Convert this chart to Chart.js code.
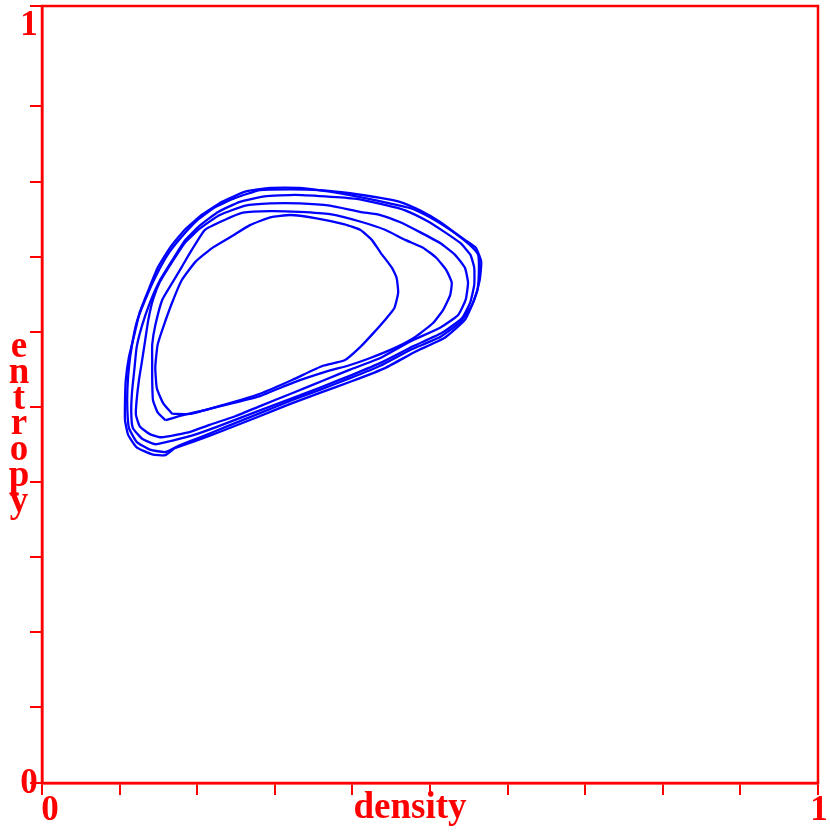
<!DOCTYPE html>
<html>
<head>
<meta charset="utf-8">
<title>density / entropy</title>
<script src="https://cdn.jsdelivr.net/npm/chart.js@4.4.1/dist/chart.umd.min.js"></script>
<style>
    html, body { margin: 0; padding: 0; background: #ffffff; }
    #wrap { width: 830px; height: 833px; }
</style>
</head>
<body>
<div id="wrap"><canvas id="phaseChart" width="830" height="833"></canvas></div>
<script>
'use strict';

// 1. DATA (density, entropy) - one closed loop per orbit, inner to outer
const loopA = [
    [.168,.475],[.191,.475],[.210,.480],[.242,.489],[.281,.501],[.323,.519],[.362,.537],[.390,.544],
    [.410,.561],[.427,.579],[.442,.596],[.454,.611],[.459,.631],[.457,.650],[.451,.663],[.436,.683],
    [.425,.699],[.410,.712],[.390,.719],[.352,.727],[.320,.731],[.294,.728],[.268,.718],[.245,.704],
    [.220,.689],[.198,.671],[.180,.647],[.168,.619],[.157,.589],[.149,.564],[.146,.535],[.148,.508],
    [.156,.489]
];
const loopB = [
    [.159,.467],[.184,.474],[.210,.480],[.242,.488],[.281,.498],[.323,.515],[.365,.529],[.397,.538],
    [.423,.547],[.457,.561],[.481,.574],[.504,.592],[.517,.609],[.526,.628],[.528,.644],[.521,.660],
    [.508,.676],[.491,.689],[.468,.699],[.442,.712],[.412,.722],[.371,.732],[.332,.735],[.294,.736],
    [.259,.734],[.236,.725],[.210,.712],[.193,.686],[.180,.664],[.168,.644],[.155,.622],[.146,.589],
    [.142,.564],[.142,.544],[.142,.519],[.143,.493],[.149,.477]
];
const loopC = [
    [.168,.447],[.191,.452],[.216,.461],[.249,.472],[.281,.485],[.323,.502],[.365,.519],[.397,.532],
    [.436,.547],[.474,.568],[.513,.586],[.536,.602],[.546,.622],[.549,.644],[.545,.663],[.532,.680],
    [.513,.695],[.487,.709],[.461,.722],[.436,.731],[.410,.735],[.371,.743],[.332,.746],[.294,.746],
    [.262,.743],[.229,.731],[.204,.714],[.184,.695],[.168,.671],[.152,.645],[.143,.622],[.137,.596],
    [.133,.570],[.129,.544],[.125,.519],[.122,.493],[.121,.474],[.126,.459],[.139,.449],[.152,.445]
];
const loopD = [
    [.165,.440],[.193,.447],[.227,.459],[.274,.477],[.322,.495],[.361,.510],[.399,.525],[.439,.542],
    [.478,.562],[.515,.579],[.541,.598],[.552,.619],[.557,.641],[.557,.663],[.552,.680],[.539,.695],
    [.519,.709],[.497,.723],[.468,.737],[.442,.744],[.403,.752],[.365,.755],[.326,.757],[.287,.755],
    [.255,.748],[.227,.735],[.204,.718],[.184,.698],[.168,.673],[.152,.647],[.139,.618],[.129,.589],
    [.122,.561],[.119,.532],[.116,.503],[.115,.477],[.117,.457],[.129,.443],[.146,.436]
];
const loopE = [
    [.178,.435],[.204,.445],[.236,.458],[.281,.476],[.323,.493],[.358,.506],[.397,.521],[.436,.537],
    [.474,.557],[.513,.574],[.539,.593],[.554,.615],[.561,.634],[.563,.658],[.562,.680],[.552,.692],
    [.536,.705],[.513,.722],[.487,.737],[.461,.748],[.436,.753],[.397,.759],[.358,.763],[.320,.764],
    [.281,.763],[.249,.753],[.223,.741],[.201,.725],[.180,.703],[.162,.680],[.146,.651],[.133,.622],
    [.122,.593],[.116,.564],[.112,.535],[.110,.506],[.110,.480],[.112,.457],[.122,.439],[.139,.429],
    [.159,.426]
];
const loopF = [
    [.171,.431],[.197,.440],[.232,.453],[.278,.471],[.320,.488],[.358,.502],[.399,.517],[.442,.534],
    [.481,.555],[.519,.573],[.545,.596],[.557,.622],[.564,.647],[.566,.671],[.559,.689],[.545,.699],
    [.526,.712],[.500,.728],[.474,.740],[.448,.746],[.410,.754],[.371,.761],[.332,.766],[.294,.766],
    [.262,.761],[.232,.748],[.207,.732],[.184,.712],[.165,.689],[.149,.663],[.137,.634],[.126,.606],
    [.119,.577],[.112,.548],[.108,.519],[.107,.493],[.107,.467],[.111,.448],[.122,.432],[.142,.423],
    [.159,.422]
];
const loops = [loopA, loopB, loopC, loopD, loopE, loopF];

// tick positions along each axis (only the ends carry a label)
const xTicks = [0, .1, .2, .3, .4, .5, .6, .7, .8, .9, 1];
const yTicks = [0, .098, .194, .291, .387, .484, .580, .677, .773, .871, 1];
const xLabels = ['0', '1'];
const yLabels = ['0', '1'];
const xTitle = 'density';
const yTitle = 'entropy';

// 2. STYLE
const RED = '#ff0000';
const BLUE = '#0000ff';
const FONT = 'bold 35px "Liberation Serif", "DejaVu Serif", serif';
const TITLE_FONT = 'bold 37px "Liberation Serif", "DejaVu Serif", serif';

// 3. FRAME + LABELS PLUGIN
const framePlugin = {
    id: 'frameLabels',
    afterDraw(chart) {
        const { ctx, chartArea: a, scales } = chart;
        ctx.save();
        ctx.strokeStyle = RED;
        ctx.lineWidth = 2.5;
        ctx.strokeRect(a.left, a.top, a.right - a.left, a.bottom - a.top);

        ctx.fillStyle = RED;
        ctx.font = FONT;
        ctx.textAlign = 'center';
        ctx.textBaseline = 'alphabetic';

        // y end labels
        ctx.fillText(yLabels[0], 29, scales.y.getPixelForValue(0) + 10);
        ctx.fillText(yLabels[1], 29, 35);
        // x end labels
        ctx.fillText(xLabels[0], scales.x.getPixelForValue(0) + 8, 820);
        ctx.fillText(xLabels[1], scales.x.getPixelForValue(1) + 1, 820);
        // x title
        ctx.font = TITLE_FONT;
        ctx.fillText(xTitle, 410, 818);
        // y title, letters stacked upright
        yTitle.split('').forEach((ch, i) => {
            ctx.fillText(ch, 19, 357 + i * 25.8);
        });
        ctx.restore();
    }
};

// 4. CHART
const ctx = document.getElementById('phaseChart').getContext('2d');
new Chart(ctx, {
    type: 'scatter',
    data: {
        datasets: loops.map(loop => ({
            data: loop.concat([loop[0]]).map(([x, y]) => ({ x, y })),
            showLine: true,
            borderColor: BLUE,
            borderWidth: 2.3,
            pointRadius: 0,
            tension: 0.15,
            fill: false
        }))
    },
    options: {
        responsive: false,
        animation: false,
        layout: { padding: { top: 6, right: 12, left: 0, bottom: 0 } },
        plugins: { legend: { display: false }, tooltip: { enabled: false } },
        scales: {
            x: {
                type: 'linear', min: 0, max: 1,
                afterBuildTicks: s => { s.ticks = xTicks.map(v => ({ value: v })); },
                afterFit: s => { s.height = 50; },
                ticks: { display: false },
                grid: { drawOnChartArea: false, drawTicks: true, tickLength: 12, color: RED, lineWidth: 2 },
                border: { color: RED, width: 2.5 }
            },
            y: {
                type: 'linear', min: 0, max: 1,
                afterBuildTicks: s => { s.ticks = yTicks.map(v => ({ value: v })); },
                afterFit: s => { s.width = 42; },
                ticks: { display: false },
                grid: { drawOnChartArea: false, drawTicks: true, tickLength: 12, color: RED, lineWidth: 2 },
                border: { color: RED, width: 2.5 }
            }
        }
    },
    plugins: [framePlugin]
});
</script>
</body>
</html>
